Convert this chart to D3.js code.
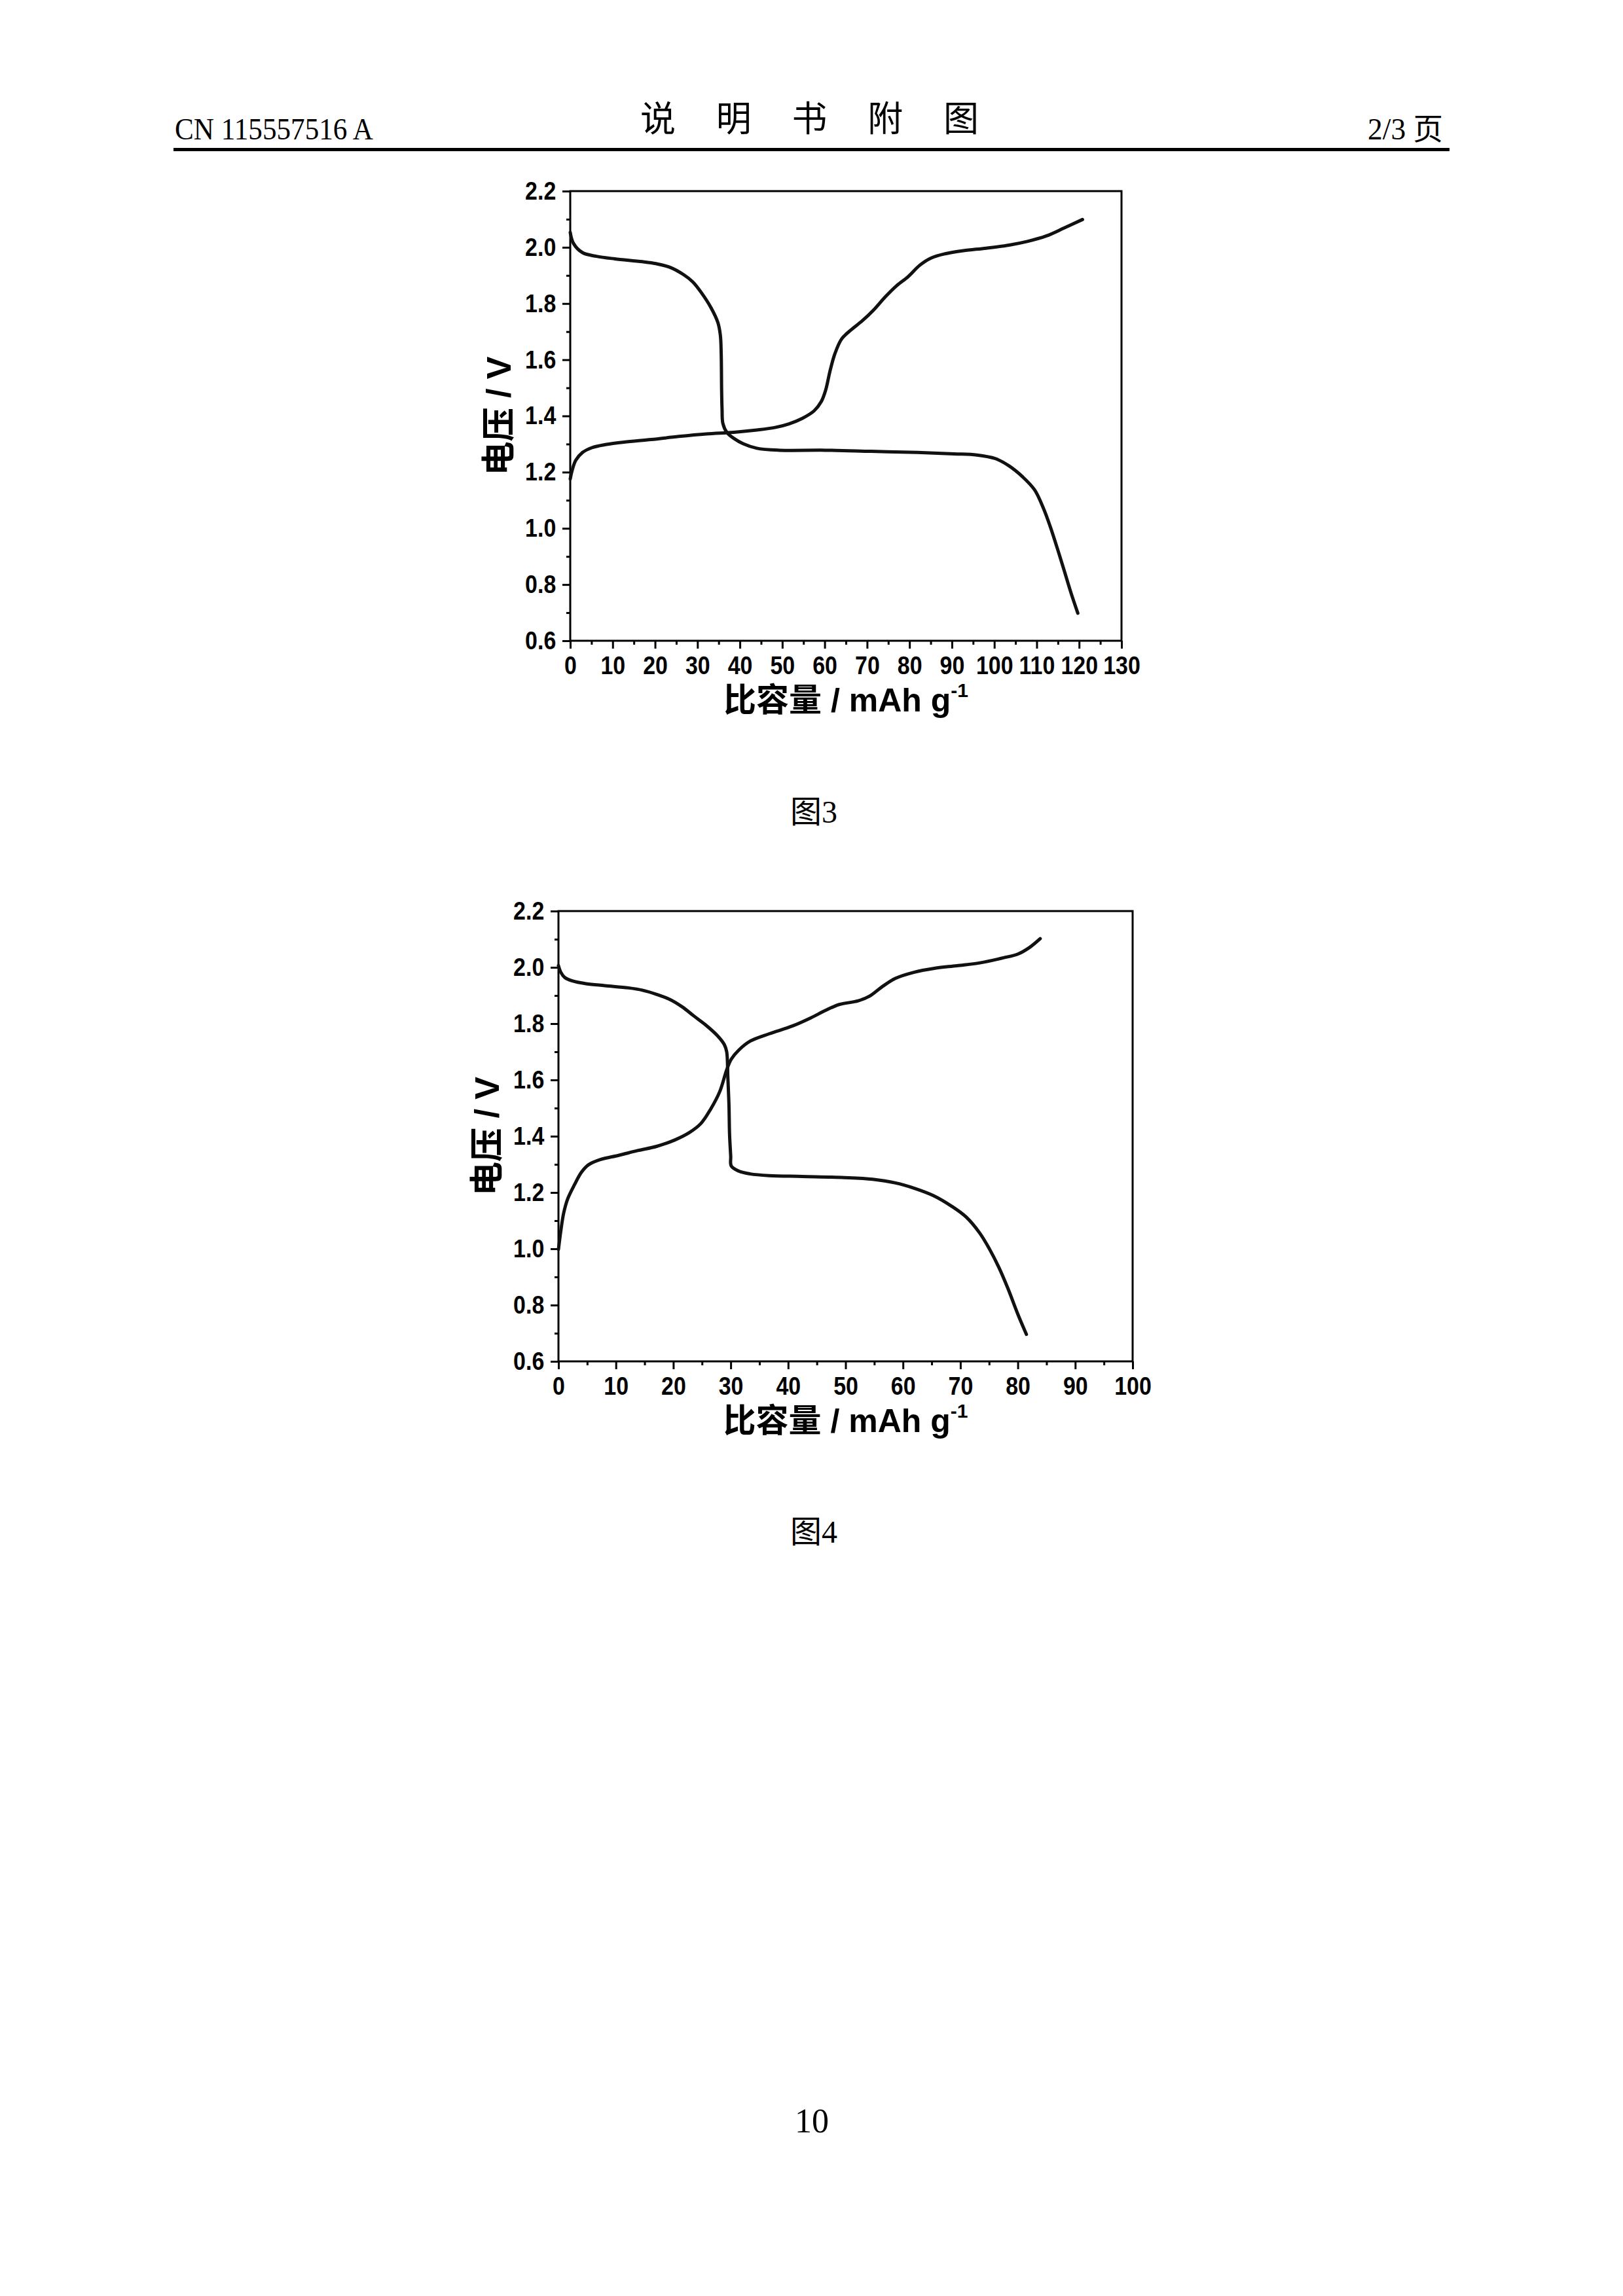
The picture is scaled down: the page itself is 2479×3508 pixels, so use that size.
<!DOCTYPE html>
<html><head><meta charset="utf-8">
<script src="https://cdn.jsdelivr.net/npm/d3@7"></script>
<style>body{margin:0;background:#fff}</style>
</head><body>
<script>
// ---------- DATA ----------
const fig3XTicks = d3.range(0, 131, 10);
const fig3XMinor = d3.range(5, 130, 10);
const fig3YTicks = [0.6, 0.8, 1.0, 1.2, 1.4, 1.6, 1.8, 2.0, 2.2];
const fig3YMinor = [0.7, 0.9, 1.1, 1.3, 1.5, 1.7, 1.9, 2.1];

const fig3Discharge = [
  [0,2.053],[0.76,2.014],[2.9,1.981],[6.2,1.968],[10.5,1.959],[17,1.949],[20.2,1.942],
  [23.5,1.929],[26.7,1.903],[28.9,1.877],[31,1.837],[33.2,1.785],[34.8,1.733],[35.4,1.687],
  [35.6,1.621],[35.7,1.49],[35.8,1.425],[36,1.373],[37,1.34],[38.6,1.32],[40.8,1.301],
  [44,1.285],[49.4,1.278],[60.2,1.278],[71,1.274],[81.9,1.27],[90.5,1.265],[95.9,1.261],
  [100.3,1.248],[103.5,1.222],[106.7,1.183],[109.5,1.137],[111.6,1.071],[113.2,1.006],
  [114.9,0.927],[116.5,0.849],[118.1,0.77],[119.7,0.698]
];
const fig3Charge = [
  [0,1.176],[0.5,1.209],[1.3,1.242],[2.9,1.27],[5.1,1.287],[8.3,1.298],[12.7,1.307],
  [19.1,1.316],[25.6,1.327],[32.1,1.336],[38.6,1.342],[44,1.35],[48.3,1.359],[51.6,1.372],
  [54.8,1.392],[57.5,1.418],[59.2,1.451],[60.2,1.49],[61.3,1.562],[62.4,1.621],[64,1.674],
  [66.2,1.706],[68.9,1.739],[71.6,1.778],[74.3,1.824],[77,1.864],[79.7,1.896],[82.4,1.936],
  [85.1,1.962],[88.4,1.977],[92.7,1.988],[98.1,1.997],[103.5,2.008],[107.8,2.021],
  [112.2,2.04],[116.5,2.069],[120.8,2.099]
];

const fig4XTicks = d3.range(0, 101, 10);
const fig4XMinor = d3.range(5, 100, 10);
const fig4YTicks = [0.6, 0.8, 1.0, 1.2, 1.4, 1.6, 1.8, 2.0, 2.2];
const fig4YMinor = [0.7, 0.9, 1.1, 1.3, 1.5, 1.7, 1.9, 2.1];

const fig4Discharge = [
  [0,2.006],[0.4,1.983],[1.1,1.964],[2.4,1.952],[4.8,1.942],[8.1,1.935],[12.2,1.927],
  [14.6,1.919],[17.1,1.904],[19.5,1.885],[21.6,1.859],[23.6,1.827],[25.6,1.796],[27.7,1.757],
  [28.9,1.725],[29.3,1.7],[29.5,1.611],[29.7,1.508],[29.8,1.406],[30,1.33],[30.1,1.294],
  [31.4,1.276],[33.4,1.266],[36.7,1.26],[42.4,1.257],[49.8,1.253],[54.7,1.247],[58.7,1.234],
  [62,1.215],[65.3,1.189],[68.5,1.151],[71,1.113],[73.4,1.055],[75.1,0.998],[76.7,0.934],
  [78.3,0.858],[80,0.768],[81.5,0.696]
];
const fig4Charge = [
  [0,0.998],[0.4,1.062],[0.9,1.126],[1.6,1.177],[2.8,1.228],[4,1.272],[5.2,1.298],
  [7.3,1.317],[10.5,1.332],[13.8,1.349],[17.1,1.364],[20.3,1.387],[22.8,1.413],[24.8,1.445],
  [26.5,1.496],[28.1,1.559],[29.3,1.636],[30.1,1.674],[31.4,1.706],[33.4,1.738],[36.7,1.764],
  [40.8,1.792],[44,1.821],[46.5,1.847],[48.9,1.868],[52.2,1.881],[54.2,1.898],[56.3,1.93],
  [58.7,1.961],[62,1.983],[65.3,1.996],[69.4,2.006],[73.4,2.016],[77.5,2.034],[80,2.047],
  [82,2.07],[83.9,2.102]
];

const headerLeft = "CN 115557516 A";
const headerTitle = "说明书附图";
const headerRight = "2/3 页";
const xTitle = "比容量 / mAh g";
const xTitleSup = "-1";
const yTitle = "电压 / V";
const caption3 = "图3";
const caption4 = "图4";
const pageNumber = "10";

// ---------- DRAW ----------
const W = 2479, H = 3508;
const svg = d3.select("body").append("svg").attr("width", W).attr("height", H)
  .style("background", "#fff");
svg.append("rect").attr("width", W).attr("height", H).attr("fill", "#fff");

const serif = "'Liberation Serif','Noto Sans CJK SC',serif";
const sans = "'Liberation Sans','Noto Sans CJK SC',sans-serif";

// header
svg.append("text").attr("x", 267).attr("y", 213).attr("font-family", serif)
  .attr("font-size", 46).attr("textLength", 303).attr("lengthAdjust", "spacingAndGlyphs")
  .text(headerLeft);
svg.append("text").attr("x", 978).attr("y", 201).attr("font-family", "'Noto Sans CJK SC'")
  .attr("font-size", 54).attr("textLength", 517).attr("lengthAdjust", "spacing")
  .text(headerTitle);
svg.append("text").attr("x", 2089).attr("y", 213).attr("font-family", serif)
  .attr("font-size", 46).attr("textLength", 115).attr("lengthAdjust", "spacingAndGlyphs")
  .text(headerRight);
svg.append("rect").attr("x", 265).attr("y", 226).attr("width", 2214 - 265).attr("height", 5)
  .attr("fill", "#000");

function drawChart(cfg) {
  const g = svg.append("g");
  const x = d3.scaleLinear().domain(cfg.xDomain).range([cfg.left, cfg.right]);
  const y = d3.scaleLinear().domain([0.6, 2.2]).range([cfg.bottom, cfg.top]);

  const styleTicks = sel => {
    sel.select(".domain").remove();
    sel.selectAll(".tick line").attr("stroke", "#000").attr("stroke-width", 3);
  };
  // minor ticks
  g.append("g").attr("transform", `translate(0,${cfg.bottom})`)
    .call(d3.axisBottom(x).tickValues(cfg.xMinor).tickSize(6).tickFormat(""))
    .call(styleTicks);
  g.append("g").attr("transform", `translate(${cfg.left},0)`)
    .call(d3.axisLeft(y).tickValues(cfg.yMinor).tickSize(6).tickFormat(""))
    .call(styleTicks);
  // major ticks
  const xa = g.append("g").attr("transform", `translate(0,${cfg.bottom})`)
    .call(d3.axisBottom(x).tickValues(cfg.xTicks).tickSize(12).tickPadding(11).tickFormat(d3.format("d")))
    .call(styleTicks);
  const ya = g.append("g").attr("transform", `translate(${cfg.left},0)`)
    .call(d3.axisLeft(y).tickValues(cfg.yTicks).tickSize(12).tickPadding(13).tickFormat(d3.format(".1f")))
    .call(styleTicks);
  [xa, ya].forEach(a => a.selectAll("text")
    .attr("font-family", sans).attr("font-weight", "bold").attr("font-size", 39)
    .attr("fill", "#000").attr("transform", "scale(0.87,1)"));

  // frame
  g.append("rect").attr("x", cfg.left).attr("y", cfg.top)
    .attr("width", cfg.right - cfg.left).attr("height", cfg.bottom - cfg.top)
    .attr("fill", "none").attr("stroke", "#000").attr("stroke-width", 3);

  // curves
  const line = d3.line().x(d => x(d[0])).y(d => y(d[1])).curve(d3.curveCatmullRom.alpha(0.5));
  [cfg.discharge, cfg.charge].forEach(s => {
    g.append("path").datum(s).attr("d", line).attr("fill", "none")
      .attr("stroke", "#111").attr("stroke-width", 5)
      .attr("stroke-linejoin", "round").attr("stroke-linecap", "round");
  });

  // titles
  const xt = g.append("text").attr("x", (cfg.left + cfg.right) / 2).attr("y", cfg.bottom + 108)
    .attr("text-anchor", "middle").attr("font-family", sans).attr("font-weight", "bold")
    .attr("font-size", 50).text(xTitle);
  xt.append("tspan").attr("font-size", 30).attr("dy", -22).text(xTitleSup);

  g.append("text")
    .attr("transform", `translate(${cfg.left - 91},${(cfg.top + cfg.bottom) / 2}) rotate(-90)`)
    .attr("text-anchor", "middle").attr("font-family", sans).attr("font-weight", "bold")
    .attr("font-size", 52).text(yTitle);

  // caption
  svg.append("text").attr("x", 1207).attr("y", cfg.captionY).attr("font-family", serif)
    .attr("font-size", 48).text(cfg.caption);
}

drawChart({
  left: 871, right: 1713, top: 292, bottom: 979, xDomain: [0, 130],
  xTicks: fig3XTicks, xMinor: fig3XMinor, yTicks: fig3YTicks, yMinor: fig3YMinor,
  discharge: fig3Discharge, charge: fig3Charge, caption: caption3, captionY: 1257
});
drawChart({
  left: 853, right: 1730, top: 1392, bottom: 2080, xDomain: [0, 100],
  xTicks: fig4XTicks, xMinor: fig4XMinor, yTicks: fig4YTicks, yMinor: fig4YMinor,
  discharge: fig4Discharge, charge: fig4Charge, caption: caption4, captionY: 2357
});

svg.append("text").attr("x", 1240).attr("y", 3258).attr("text-anchor", "middle")
  .attr("font-family", serif).attr("font-size", 52).text(pageNumber);
</script>
</body></html>
